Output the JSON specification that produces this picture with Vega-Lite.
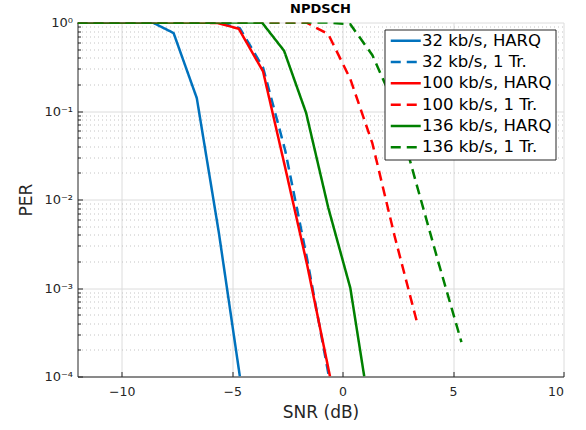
{
  "$schema": "https://vega.github.io/schema/vega-lite/v6.json",
  "width": 486,
  "height": 354,
  "autosize": "none",
  "padding": {"left": 77.5, "top": 22.5, "right": 22.5, "bottom": 53.5},
  "background": "white",
  "view": {"stroke": null},
  "title": {"text": "NPDSCH", "font": "DejaVu Sans", "fontSize": 13, "fontWeight": "bold", "color": "#000000", "offset": 1},
  "config": {
    "font": "DejaVu Sans"
  },
  "data": {
    "values": [
      {"series": "32 kb/s, HARQ", "snr": -12, "per": 1},
      {"series": "32 kb/s, HARQ", "snr": -8.6, "per": 1},
      {"series": "32 kb/s, HARQ", "snr": -7.65, "per": 0.76},
      {"series": "32 kb/s, HARQ", "snr": -6.6, "per": 0.14},
      {"series": "32 kb/s, HARQ", "snr": -5.6, "per": 0.0042},
      {"series": "32 kb/s, HARQ", "snr": -4.65, "per": 0.0001},
      {"series": "32 kb/s, 1 Tr.", "snr": -12, "per": 1},
      {"series": "32 kb/s, 1 Tr.", "snr": -5.65, "per": 1},
      {"series": "32 kb/s, 1 Tr.", "snr": -4.65, "per": 0.86},
      {"series": "32 kb/s, 1 Tr.", "snr": -3.6, "per": 0.31},
      {"series": "32 kb/s, 1 Tr.", "snr": -2.6, "per": 0.036},
      {"series": "32 kb/s, 1 Tr.", "snr": -1.6, "per": 0.0021},
      {"series": "32 kb/s, 1 Tr.", "snr": -0.62, "per": 0.0001},
      {"series": "100 kb/s, HARQ", "snr": -12, "per": 1},
      {"series": "100 kb/s, HARQ", "snr": -6.65, "per": 1},
      {"series": "100 kb/s, HARQ", "snr": -5.65, "per": 0.985},
      {"series": "100 kb/s, HARQ", "snr": -4.7, "per": 0.85},
      {"series": "100 kb/s, HARQ", "snr": -3.6, "per": 0.28},
      {"series": "100 kb/s, HARQ", "snr": -2.6, "per": 0.023},
      {"series": "100 kb/s, HARQ", "snr": -1.6, "per": 0.0018},
      {"series": "100 kb/s, HARQ", "snr": -0.57, "per": 0.0001},
      {"series": "100 kb/s, 1 Tr.", "snr": -12, "per": 1},
      {"series": "100 kb/s, 1 Tr.", "snr": -1.65, "per": 1},
      {"series": "100 kb/s, 1 Tr.", "snr": -0.65, "per": 0.74},
      {"series": "100 kb/s, 1 Tr.", "snr": 0.35, "per": 0.23},
      {"series": "100 kb/s, 1 Tr.", "snr": 1.35, "per": 0.043},
      {"series": "100 kb/s, 1 Tr.", "snr": 2.35, "per": 0.0039},
      {"series": "100 kb/s, 1 Tr.", "snr": 3.38, "per": 0.0004},
      {"series": "136 kb/s, HARQ", "snr": -12, "per": 1},
      {"series": "136 kb/s, HARQ", "snr": -3.65, "per": 1},
      {"series": "136 kb/s, HARQ", "snr": -2.65, "per": 0.48},
      {"series": "136 kb/s, HARQ", "snr": -1.65, "per": 0.095},
      {"series": "136 kb/s, HARQ", "snr": -0.65, "per": 0.0081},
      {"series": "136 kb/s, HARQ", "snr": 0.35, "per": 0.001},
      {"series": "136 kb/s, HARQ", "snr": 0.98, "per": 0.0001},
      {"series": "136 kb/s, 1 Tr.", "snr": -12, "per": 1},
      {"series": "136 kb/s, 1 Tr.", "snr": -0.65, "per": 1},
      {"series": "136 kb/s, 1 Tr.", "snr": 0.35, "per": 0.955},
      {"series": "136 kb/s, 1 Tr.", "snr": 1.35, "per": 0.427},
      {"series": "136 kb/s, 1 Tr.", "snr": 2.35, "per": 0.117},
      {"series": "136 kb/s, 1 Tr.", "snr": 3.35, "per": 0.0148},
      {"series": "136 kb/s, 1 Tr.", "snr": 4.35, "per": 0.0019},
      {"series": "136 kb/s, 1 Tr.", "snr": 5.38, "per": 0.000245}
    ]
  },
  "mark": {"type": "line", "strokeWidth": 2.5, "clip": true, "strokeJoin": "round"},
  "encoding": {
    "x": {
      "field": "snr", "type": "quantitative",
      "scale": {"domain": [-12, 10], "nice": false, "zero": false},
      "axis": {
        "title": "SNR (dB)", "values": [-10, -5, 0, 5, 10],
        "grid": true, "gridColor": "#dcdcdc", "gridWidth": 1,
        "domainColor": "#262626", "domainWidth": 1,
        "tickColor": "#262626", "tickSize": -5,
        "labelFontSize": 12.5, "labelColor": "#262626", "labelPadding": 14,
        "titleFontSize": 17, "titleFontWeight": "normal", "titleColor": "#262626", "titlePadding": 6
      }
    },
    "y": {
      "field": "per", "type": "quantitative",
      "scale": {"type": "log", "domain": [0.0001, 1], "nice": false},
      "axis": {
        "title": "PER",
        "values": [0.0001, 0.0002, 0.0003, 0.0004, 0.0005, 0.0006, 0.0007, 0.0008, 0.0009, 0.001, 0.002, 0.003, 0.004, 0.005, 0.006, 0.007, 0.008, 0.009, 0.01, 0.02, 0.03, 0.04, 0.05, 0.06, 0.07, 0.08, 0.09, 0.1, 0.2, 0.3, 0.4, 0.5, 0.6, 0.7, 0.8, 0.9, 1],
        "labelExpr": "datum.value == 1 ? '10⁰' : datum.value == 0.1 ? '10⁻¹' : datum.value == 0.01 ? '10⁻²' : datum.value == 0.001 ? '10⁻³' : datum.value == 0.0001 ? '10⁻⁴' : ''",
        "grid": true,
        "gridColor": {"condition": {"test": "indexof([1, 0.1, 0.01, 0.001, 0.0001], datum.value) >= 0", "value": "#dcdcdc"}, "value": "#c4c4c4"},
        "gridDash": {"condition": {"test": "indexof([1, 0.1, 0.01, 0.001, 0.0001], datum.value) >= 0", "value": []}, "value": [1, 3]},
        "tickSize": {"condition": {"test": "indexof([1, 0.1, 0.01, 0.001, 0.0001], datum.value) >= 0", "value": -5}, "value": -3},
        "tickColor": "#262626",
        "domainColor": "#262626", "domainWidth": 1,
        "labelFontSize": 13, "labelColor": "#262626", "labelPadding": 10,
        "titleFontSize": 17, "titleFontWeight": "normal", "titleColor": "#262626", "titlePadding": 8
      }
    },
    "color": {
      "field": "series", "type": "nominal",
      "scale": {
        "domain": ["32 kb/s, HARQ", "32 kb/s, 1 Tr.", "100 kb/s, HARQ", "100 kb/s, 1 Tr.", "136 kb/s, HARQ", "136 kb/s, 1 Tr."],
        "range": ["#0072BD", "#0072BD", "#FF0000", "#FF0000", "#008000", "#008000"]
      },
      "legend": {
        "orient": "none", "legendX": 307, "legendY": 7, "title": null,
        "strokeColor": "#262626", "fillColor": "#ffffff", "padding": 3,
        "symbolType": "M-3,0H3", "symbolSize": 100, "symbolStrokeWidth": 2.5,
        "symbolOffset": 10, "labelOffset": 8,
        "labelFontSize": 16.5, "labelColor": "#000000", "rowPadding": 4.3
      }
    },
    "strokeDash": {
      "field": "series", "type": "nominal",
      "scale": {
        "domain": ["32 kb/s, HARQ", "32 kb/s, 1 Tr.", "100 kb/s, HARQ", "100 kb/s, 1 Tr.", "136 kb/s, HARQ", "136 kb/s, 1 Tr."],
        "range": [[1, 0], [10, 6], [1, 0], [10, 6], [1, 0], [10, 6]]
      }
    }
  }
}
